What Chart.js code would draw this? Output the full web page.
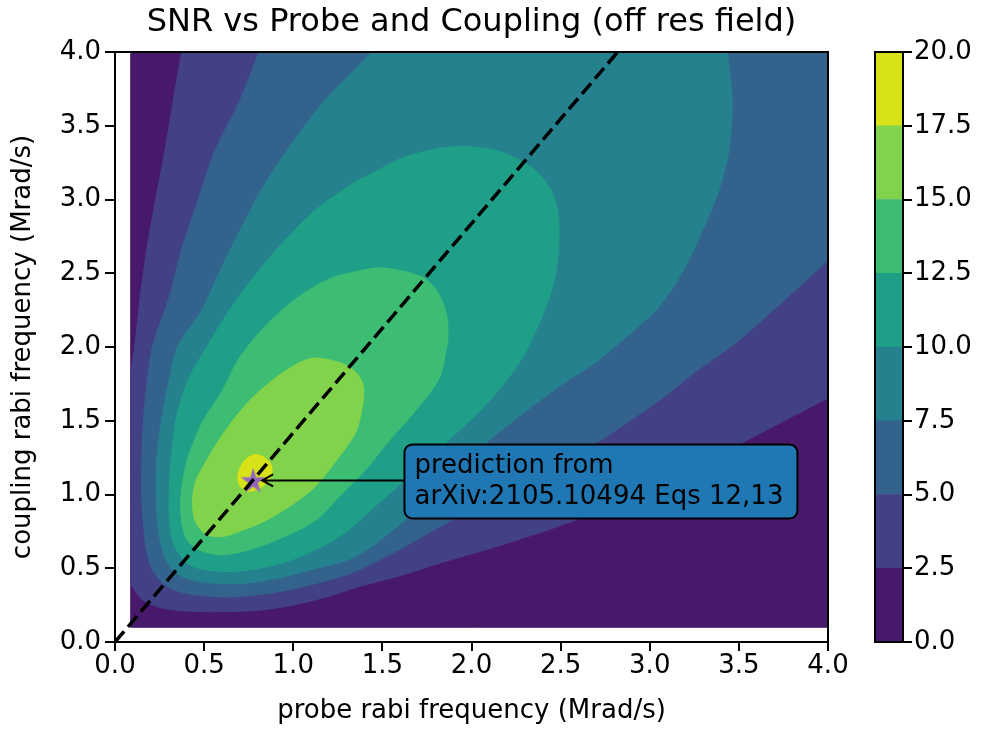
<!DOCTYPE html>
<html>
<head>
<meta charset="utf-8">
<script src="https://cdn.jsdelivr.net/npm/chart.js@4.4.0/dist/chart.umd.min.js"></script>
<style>
  body { margin: 0; background: #fff; }
  #wrap { position: relative; width: 984px; height: 729px; }
  #snrChart { position: absolute; left: 0; top: 0; }
  #cbarChart { position: absolute; left: 860px; top: 0; }
</style>
</head>
<body>
<div id="wrap">
  <canvas id="snrChart" width="860" height="729"></canvas>
  <canvas id="cbarChart" width="124" height="729"></canvas>
</div>
<script>
// contour levels and the viridis colour of each filled band
var levels = [0, 2.5, 5, 7.5, 10, 12.5, 15, 17.5, 20];
var bandColors = ['#48196a', '#424186', '#33628d', '#26818e', '#1f9f88', '#3dbc74', '#82d34c', '#d8e219'];

// extent of the computed grid (Mrad/s)
var gridX = [0.09, 4.0];
var gridY = [0.1, 4.0];

// SNR = 2.5, upper-left branch (left edge -> top edge)
var c25aX = [0.09, 0.108, 0.14, 0.178, 0.228, 0.28, 0.327, 0.374];
var c25aY = [1.85, 1.98, 2.32, 2.66, 3.0, 3.33, 3.67, 4.0];
// SNR = 2.5, lower-right branch (right edge -> left edge)
var c25bX = [4.0, 3.5, 3.0, 2.57, 2.2, 1.825, 1.6, 1.35, 1.2, 1.0, 0.8, 0.6, 0.4, 0.25, 0.15, 0.09];
var c25bY = [1.655, 1.34, 1.03, 0.82, 0.67, 0.536, 0.45, 0.37, 0.31, 0.25, 0.215, 0.205, 0.21, 0.235, 0.29, 0.39];

// SNR = 5 (top edge -> right edge)
var c50X = [0.808, 0.70, 0.56, 0.468, 0.374, 0.30, 0.21, 0.175, 0.155, 0.15, 0.16, 0.18, 0.22, 0.29, 0.4, 0.6, 0.8, 1.0, 1.2, 1.35, 1.6, 1.825, 2.2, 2.7, 2.88, 3.07, 3.257, 3.463, 3.631, 3.818, 4.0];
var c50Y = [4.0, 3.67, 3.33, 3.0, 2.66, 2.32, 2.0, 1.7, 1.4, 1.0, 0.8, 0.6, 0.47, 0.38, 0.33, 0.305, 0.32, 0.36, 0.42, 0.48, 0.63, 0.784, 1.03, 1.35, 1.494, 1.653, 1.833, 2.01, 2.183, 2.386, 2.589];

// SNR = 7.5 (top edge -> top edge)
var c75X = [1.44, 1.348, 1.16, 0.992, 0.842, 0.711, 0.599, 0.487, 0.35, 0.30, 0.26, 0.235, 0.232, 0.24, 0.265, 0.31, 0.385, 0.5, 0.7, 0.9, 1.1, 1.35, 1.6, 1.825, 2.1, 2.3, 2.5, 2.7, 2.85, 3.05, 3.2, 3.313, 3.388, 3.444, 3.463, 3.435];
var c75Y = [4.0, 3.885, 3.65, 3.38, 3.108, 2.814, 2.543, 2.25, 2.0, 1.75, 1.5, 1.25, 1.0, 0.8, 0.63, 0.51, 0.44, 0.405, 0.395, 0.43, 0.49, 0.58, 0.80, 1.06, 1.37, 1.56, 1.74, 1.9, 2.05, 2.27, 2.543, 2.837, 3.063, 3.333, 3.67, 4.0];

// closed contours 10, 12.5, 15, 17.5
var c100X = [1.89, 2.134, 2.358, 2.47, 2.49, 2.45, 2.31, 2.2, 2.05, 1.9, 1.75, 1.6, 1.45, 1.3, 1.15, 0.95, 0.7, 0.5, 0.40, 0.33, 0.305, 0.305, 0.32, 0.35, 0.415, 0.515, 0.618, 0.749, 0.936, 1.123, 1.348, 1.441, 1.628];
var c100Y = [3.356, 3.333, 3.198, 2.995, 2.70, 2.386, 1.98, 1.78, 1.57, 1.40, 1.23, 1.07, 0.91, 0.75, 0.64, 0.54, 0.48, 0.49, 0.54, 0.665, 0.84, 1.05, 1.3, 1.55, 1.79, 2.0, 2.205, 2.43, 2.70, 2.927, 3.119, 3.176, 3.288];

var c125X = [1.50, 1.72, 1.815, 1.862, 1.868, 1.86, 1.82, 1.68, 1.535, 1.40, 1.26, 1.12, 0.84, 0.62, 0.48, 0.40, 0.37, 0.375, 0.41, 0.49, 0.60, 0.70, 0.85, 1.03, 1.20, 1.35];
var c125Y = [2.535, 2.476, 2.363, 2.205, 2.07, 2.0, 1.79, 1.56, 1.36, 1.16, 0.99, 0.82, 0.66, 0.592, 0.62, 0.70, 0.86, 1.05, 1.25, 1.49, 1.70, 1.93, 2.15, 2.34, 2.46, 2.51];

var c150X = [1.12, 1.27, 1.35, 1.39, 1.395, 1.38, 1.35, 1.26, 1.12, 0.98, 0.84, 0.70, 0.60, 0.51, 0.45, 0.435, 0.45, 0.49, 0.60, 0.75, 0.90, 1.03];
var c150Y = [1.925, 1.89, 1.83, 1.75, 1.66, 1.55, 1.42, 1.26, 1.05, 0.92, 0.82, 0.75, 0.715, 0.73, 0.82, 0.95, 1.08, 1.18, 1.40, 1.63, 1.79, 1.89];

var c175X = [0.78, 0.84, 0.88, 0.87, 0.82, 0.75, 0.70, 0.69, 0.72];
var c175Y = [1.27, 1.25, 1.19, 1.11, 1.05, 1.02, 1.06, 1.13, 1.22];

// Omega_c = sqrt(2) Omega_p guide line
var diagX = [0, 2.82];
var diagY = [0, 4.0];

// predicted optimum and its label
var predX = [0.775];
var predY = [1.095];
var annotText = ['prediction from', 'arXiv:2105.10494 Eqs 12,13'];
var annotTextX = 1.68;

var chartTitle = 'SNR vs Probe and Coupling (off res field)';
var FONT = 'DejaVu Sans';

function pts(xs, ys) {
  return xs.map(function (x, i) { return { x: x, y: ys[i] }; });
}

// region above a level bounded by contour branches and grid corners;
// branch ends and corners are doubled so the spline stays sharp there
function outline(parts) {
  var out = [];
  parts.forEach(function (p) {
    var s = Array.isArray(p) ? p : [p];
    out.push(s[0]);
    out = out.concat(s);
    out.push(s[s.length - 1]);
  });
  out.push(out[0], out[0]);
  return out;
}

// closed loop, wrapped past the start so the join is smooth
function loop(p) {
  return [p[p.length - 1]].concat(p, [p[0], p[1]]);
}

var x0 = gridX[0], x1 = gridX[1], y0 = gridY[0], y1 = gridY[1];
var regions = [
  [{ x: x0, y: y0 }, { x: x1, y: y0 }, { x: x1, y: y1 }, { x: x0, y: y1 }, { x: x0, y: y0 }],
  outline([pts(c25aX, c25aY), { x: x1, y: y1 }, pts(c25bX, c25bY)]),
  outline([pts(c50X, c50Y), { x: x1, y: y1 }]),
  outline([pts(c75X, c75Y)]),
  loop(pts(c100X, c100Y)),
  loop(pts(c125X, c125Y)),
  loop(pts(c150X, c150Y)),
  loop(pts(c175X, c175Y))
];

function starMarker(size, color) {
  var c = document.createElement('canvas');
  c.width = c.height = size;
  var g = c.getContext('2d');
  var r = size / 2, ri = r * 0.382;
  g.beginPath();
  for (var i = 0; i < 10; i++) {
    var a = -Math.PI / 2 + i * Math.PI / 5;
    var rr = i % 2 ? ri : r;
    g.lineTo(r + rr * Math.cos(a), r + rr * 1.05 * Math.sin(a) + 1);
  }
  g.closePath();
  g.fillStyle = color;
  g.fill();
  return c;
}

var datasets = [
  {
    data: pts(diagX, diagY),
    borderColor: '#000',
    borderWidth: 3.5,
    borderDash: [14, 6],
    pointRadius: 0,
    fill: false
  },
  {
    data: pts(predX, predY),
    showLine: false,
    pointStyle: starMarker(26, '#9467bd'),
    pointRadius: 13,
    fill: false
  }
];
for (var k = regions.length - 1; k >= 0; k--) {
  datasets.push({
    data: regions[k],
    backgroundColor: bandColors[k],
    borderColor: bandColors[k],
    borderWidth: 1,
    tension: k === 0 ? 0 : 0.3,
    pointRadius: 0,
    fill: 'shape'
  });
}

var framePlugin = {
  id: 'frame',
  afterDraw: function (chart) {
    var a = chart.chartArea, ctx = chart.ctx;
    ctx.save();
    ctx.strokeStyle = '#000';
    ctx.lineWidth = 2;
    ctx.strokeRect(a.left, a.top, a.right - a.left, a.bottom - a.top);
    ctx.restore();
  }
};

// title centred over the plot area rather than the whole canvas
var titlePlugin = {
  id: 'plotTitle',
  afterDraw: function (chart) {
    var a = chart.chartArea, ctx = chart.ctx;
    ctx.save();
    ctx.font = '32px "' + FONT + '"';
    ctx.fillStyle = '#000';
    ctx.textAlign = 'center';
    ctx.textBaseline = 'middle';
    ctx.fillText(chartTitle, (a.left + a.right) / 2, 23);
    ctx.restore();
  }
};

var annotationPlugin = {
  id: 'annotation',
  afterDatasetsDraw: function (chart) {
    var ctx = chart.ctx, xs = chart.scales.x, ys = chart.scales.y;
    var tx = xs.getPixelForValue(annotTextX);
    var ty = ys.getPixelForValue(predY[0]);
    var px = xs.getPixelForValue(predX[0]);
    ctx.save();
    ctx.font = '26px "' + FONT + '"';
    var w = Math.max.apply(null, annotText.map(function (l) { return ctx.measureText(l).width; }));
    var lh = 31, padX = 10, padY = 6;
    var bx = tx - padX, bw = w + 2 * padX + 4;
    var bh = annotText.length * lh + 2 * padY, by = ty - bh / 2 + 1;

    // arrow from box to the marker
    var tipX = px + 9;
    ctx.strokeStyle = '#000';
    ctx.lineWidth = 2;
    ctx.beginPath();
    ctx.moveTo(bx, ty);
    ctx.lineTo(tipX, ty);
    ctx.moveTo(tipX + 11, ty - 6);
    ctx.lineTo(tipX, ty);
    ctx.lineTo(tipX + 11, ty + 6);
    ctx.stroke();

    ctx.beginPath();
    ctx.roundRect(bx, by, bw, bh, 8);
    ctx.fillStyle = '#1f77b4';
    ctx.fill();
    ctx.stroke();

    ctx.fillStyle = '#000';
    ctx.textBaseline = 'middle';
    ctx.textAlign = 'left';
    annotText.forEach(function (l, i) {
      ctx.fillText(l, tx, by + padY + lh * (i + 0.5));
    });
    ctx.restore();
  }
};

var tickFont = { family: FONT, size: 26 };

new Chart(document.getElementById('snrChart'), {
  type: 'line',
  data: { datasets: datasets },
  options: {
    responsive: false,
    animation: false,
    events: [],
    layout: { padding: { left: 0, right: 32, top: 52, bottom: 0 } },
    plugins: {
      legend: { display: false },
      tooltip: { enabled: false },
      title: { display: false }
    },
    scales: {
      x: {
        type: 'linear',
        min: 0,
        max: 4,
        ticks: {
          stepSize: 0.5,
          autoSkip: false,
          maxRotation: 0,
          color: '#000',
          font: tickFont,
          padding: 0,
          callback: function (v) { return v.toFixed(1); }
        },
        grid: { drawOnChartArea: false, tickLength: 9, color: '#000', lineWidth: 2 },
        border: { color: '#000', width: 2 },
        title: {
          display: true,
          text: 'probe rabi frequency (Mrad/s)',
          color: '#000',
          font: tickFont,
          padding: { top: 0, bottom: 2 }
        },
        afterFit: function (s) { s.height = 87; }
      },
      y: {
        type: 'linear',
        min: 0,
        max: 4,
        ticks: {
          stepSize: 0.5,
          autoSkip: false,
          color: '#000',
          font: tickFont,
          padding: 4,
          callback: function (v) { return v.toFixed(1); }
        },
        grid: { drawOnChartArea: false, tickLength: 10, color: '#000', lineWidth: 2 },
        border: { color: '#000', width: 2 },
        title: {
          display: true,
          text: 'coupling rabi frequency (Mrad/s)',
          color: '#000',
          font: tickFont,
          padding: { top: 8, bottom: 0 }
        },
        afterFit: function (s) { s.width = 115; }
      }
    }
  },
  plugins: [framePlugin, annotationPlugin, titlePlugin]
});

// colour bar: one floating bar per band
new Chart(document.getElementById('cbarChart'), {
  type: 'bar',
  data: {
    labels: [''],
    datasets: bandColors.map(function (c, i) {
      return {
        data: [[levels[i], levels[i + 1]]],
        backgroundColor: c,
        borderWidth: 0,
        barPercentage: 1,
        categoryPercentage: 1
      };
    })
  },
  options: {
    responsive: false,
    animation: false,
    events: [],
    layout: { padding: { left: 15, right: 0, top: 52, bottom: 87 } },
    plugins: { legend: { display: false }, tooltip: { enabled: false } },
    scales: {
      x: { display: false, stacked: true },
      y: {
        position: 'right',
        min: 0,
        max: 20,
        ticks: {
          stepSize: 2.5,
          color: '#000',
          font: tickFont,
          padding: 2,
          callback: function (v) { return v.toFixed(1); }
        },
        grid: { drawOnChartArea: false, tickLength: 9, color: '#000', lineWidth: 2 },
        border: { display: false },
        afterFit: function (s) { s.width = 81; }
      }
    }
  },
  plugins: [framePlugin]
});
</script>
</body>
</html>
